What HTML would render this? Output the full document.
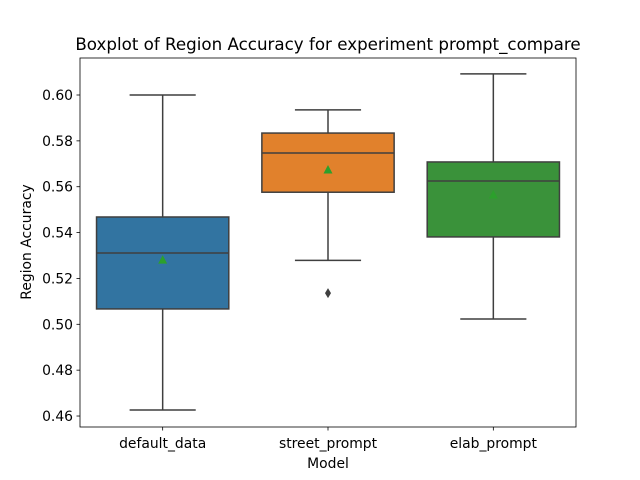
<!DOCTYPE html>
<html><head><meta charset="utf-8"><style>body{margin:0;background:#fff}svg{display:block;font-family:"DejaVu Sans","Liberation Sans",sans-serif}</style></head>
<body>
<svg id="chart" width="640" height="480" viewBox="0 0 640 480">
<rect width="640" height="480" fill="#fff"/>
<text x="328" y="50" font-size="16.7" text-anchor="middle" fill="#000">Boxplot of Region Accuracy for experiment prompt_compare</text>
<g id="plot"></g>
<rect x="80" y="58" width="496" height="369" fill="none" stroke="#000" stroke-width="0.8"/>
<text x="328" y="468" font-size="13.9" text-anchor="middle">Model</text>
<text transform="translate(31,242) rotate(-90)" font-size="13.9" text-anchor="middle">Region Accuracy</text>
</svg>
<script>
const categories = ["default_data", "street_prompt", "elab_prompt"];
const whiskerLow = [0.4626, 0.5279, 0.5023];
const q1 = [0.5067, 0.5576, 0.5381];
const medians = [0.5311, 0.5747, 0.5625];
const q3 = [0.5468, 0.5834, 0.5708];
const whiskerHigh = [0.6000, 0.5935, 0.6092];
const means = [0.528, 0.5673, 0.5564];
const outliers = [[], [0.5136], []];
const yTicks = [0.46, 0.48, 0.50, 0.52, 0.54, 0.56, 0.58, 0.60];
const colors = ["#3274a1", "#e1812c", "#3a923a"];

const NS = "http://www.w3.org/2000/svg";
const g = document.getElementById("plot");
const yScale = v => 95 + (0.60 - v) * 2293;
const xScale = i => 80 + 496 * (i + 0.5) / categories.length;
const boxW = 496 / categories.length * 0.8;
function mk(tag, attrs) { const e = document.createElementNS(NS, tag); for (const k in attrs) e.setAttribute(k, attrs[k]); g.appendChild(e); return e; }

yTicks.forEach(t => {
  const y = yScale(t);
  const l = mk("line", {x1: 76.5, x2: 80, y1: y, y2: y, stroke: "#000", "stroke-width": 0.8});
  
  
  const tx = mk("text", {x: 73, y: y + 5, "font-size": 13.9, "text-anchor": "end"});
  tx.textContent = t.toFixed(2);
  
  
});

categories.forEach((c, i) => {
  const x = xScale(i), ln = "#3f3f3f";
  const w1 = mk("line", {x1: x, x2: x, y1: yScale(whiskerHigh[i]), y2: yScale(q3[i]), stroke: ln, "stroke-width": 1.5});
  
  
  const w2 = mk("line", {x1: x, x2: x, y1: yScale(q1[i]), y2: yScale(whiskerLow[i]), stroke: ln, "stroke-width": 1.5});
  
  
  [whiskerHigh[i], whiskerLow[i]].forEach(v => {
    const cap = mk("line", {x1: x - boxW / 4, x2: x + boxW / 4, y1: yScale(v), y2: yScale(v), stroke: ln, "stroke-width": 1.5});
    
    
  });
  const b = mk("rect", {x: x - boxW / 2, y: yScale(q3[i]), width: boxW, height: yScale(q1[i]) - yScale(q3[i]), fill: colors[i], stroke: ln, "stroke-width": 1.5});
  
  
  const m = mk("line", {x1: x - boxW / 2, x2: x + boxW / 2, y1: yScale(medians[i]), y2: yScale(medians[i]), stroke: ln, "stroke-width": 1.5});
  
  
  const my = yScale(means[i]);
  const tri = mk("polygon", {points: `${x},${my - 5} ${x - 4.5},${my + 3.5} ${x + 4.5},${my + 3.5}`, fill: "#2ca02c"});
  
  
  outliers[i].forEach(v => {
    const oy = yScale(v);
    const d = mk("polygon", {points: `${x},${oy - 5} ${x + 3},${oy} ${x},${oy + 5} ${x - 3},${oy}`, fill: "#3f3f3f"});
    
    
  });
  const tk = mk("line", {x1: x, x2: x, y1: 427, y2: 430.5, stroke: "#000", "stroke-width": 0.8});
  
  
  const lab = mk("text", {x: x, y: 448, "font-size": 13.9, "text-anchor": "middle"});
  lab.textContent = c;
  
  
});
</script>
</body></html>
